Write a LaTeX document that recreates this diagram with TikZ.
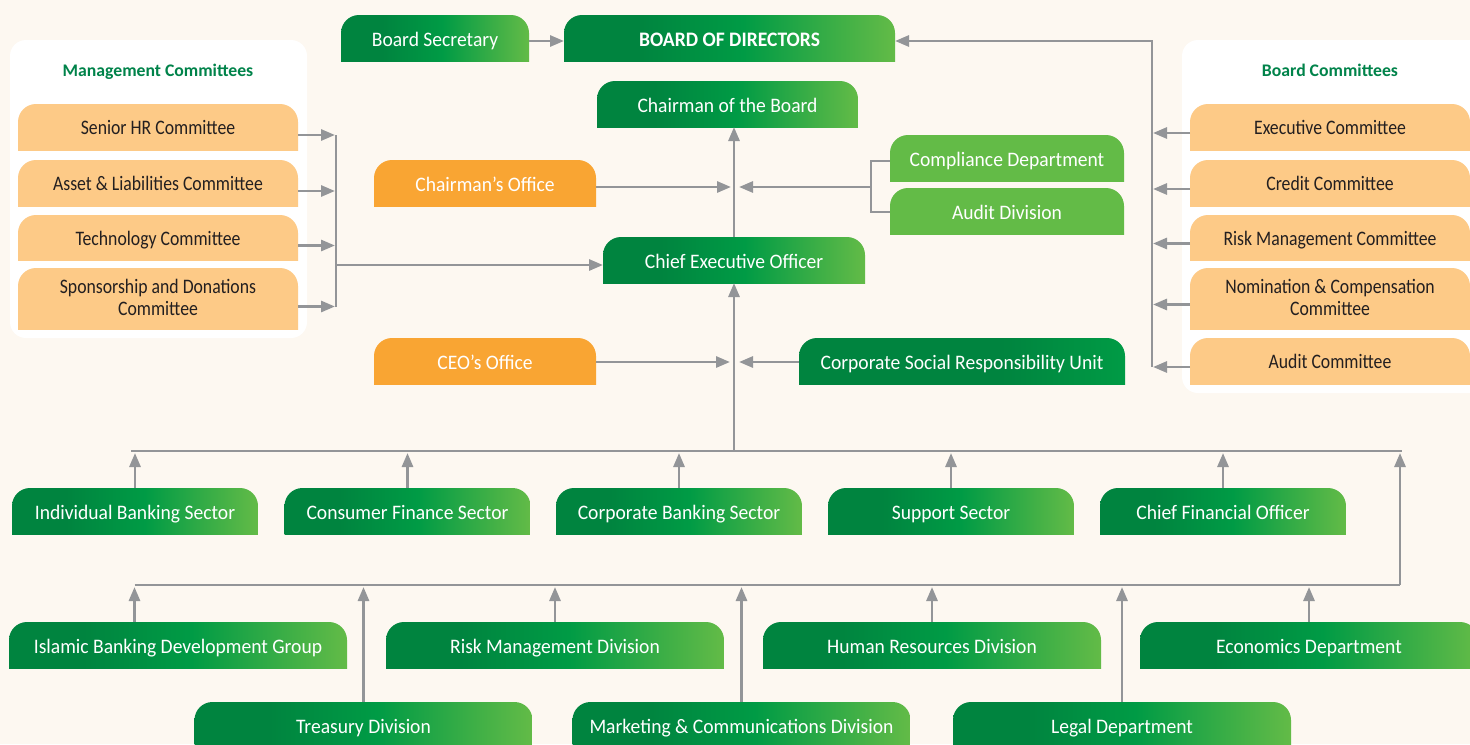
\documentclass[tikz,border=0pt]{standalone}
\usepackage{fontspec}
\setmainfont{Carlito}
\newfontfamily\boxfont{Carlito}[FakeStretch=0.95]
\newfontfamily\cmtfont{Carlito}[FakeStretch=0.86]
\usetikzlibrary{arrows.meta}

\definecolor{paper}{HTML}{FDF8F1}
\definecolor{gdark}{HTML}{00843F}
\definecolor{gmid}{HTML}{009B45}
\definecolor{glight}{HTML}{63BB47}
\definecolor{orangebox}{HTML}{F9A533}
\definecolor{peach}{HTML}{FDCA87}
\definecolor{titlegreen}{HTML}{00834A}
\definecolor{wire}{HTML}{939598}
\definecolor{inkdark}{HTML}{231F20}

% left-to-right fades used for the green tabs
\pgfdeclarehorizontalshading{greenfade}{100bp}{color(0bp)=(gdark); color(25bp)=(gdark); color(36bp)=(gdark); color(52bp)=(gmid); color(75bp)=(glight); color(100bp)=(glight)}
\pgfdeclarehorizontalshading{greendeep}{100bp}{color(0bp)=(gdark); color(25bp)=(gdark); color(56bp)=(gdark); color(75bp)=(gmid); color(100bp)=(gmid)}

\tikzset{
  % tab shape: rounded top corners, square bottom (bottom corners fall outside the clip)
  tab/.style={path picture={\path[#1, rounded corners=9pt]
      ([yshift=-14pt]path picture bounding box.south west) rectangle (path picture bounding box.north east);}},
  wh/.style 2 args={minimum width=#1*0.5pt, minimum height=#2*0.5pt},
  unitbox/.style={inner sep=0pt, outer sep=0pt, align=center},
  whitetext/.style={unitbox, text=white, font=\boxfont\fontsize{10.3}{12}\selectfont, text height=9.5pt, text depth=1pt},
  greenbox/.style={whitetext, tab={shade, shading=greenfade}},
  deepbox/.style={whitetext, tab={shade, shading=greendeep}},
  flatgreen/.style={whitetext, tab={fill=glight}},
  orangetab/.style={whitetext, tab={fill=orangebox}},
  cmtbox/.style={unitbox, text=inkdark, tab={fill=peach}, font=\cmtfont\fontsize{10.3}{11.25}\selectfont, text height=8.75pt, text depth=1pt},
  twoline/.style={text height=18pt},
  paneltitle/.style={anchor=base, text=titlegreen, font=\bfseries\fontsize{8.85}{11}\selectfont},
  wire/.style={draw=wire, line width=1.4pt},
  arr/.style={wire, -{Triangle[length=7pt,width=5.5pt]}},
}

\begin{document}
\begin{tikzpicture}[x=0.5pt, y=-0.5pt]
\useasboundingbox (0,0) rectangle (1470,744);
\fill[paper] (0,0) rectangle (1470,744);

% committee panels
\fill[white, rounded corners=8pt] (10,40) rectangle (307,338);
\fill[white, rounded corners=8pt] (1182,40) rectangle (1500,393);
\node[paneltitle] (mtitle) at (158,76) {Management Committees};
\node[paneltitle] (btitle) at (1330,76) {Board Committees};

% board level
\node[greenbox, wh={188}{46}] (bs) at (435,38) {Board Secretary};
\node[greenbox, wh={331}{46}, font=\boxfont\bfseries\fontsize{10.3}{12}\selectfont] (bod) at (729.5,38) {BOARD OF DIRECTORS};
\node[greenbox, wh={261}{46}] (chair) at (727.5,104) {Chairman of the Board};
\node[orangetab, wh={222}{46}] (cho) at (485,183) {Chairman’s Office};
\node[flatgreen, wh={234}{46}] (comp) at (1007,158) {Compliance Department};
\node[flatgreen, wh={234}{46}] (aud) at (1007,211) {Audit Division};
\node[greenbox, wh={262}{46}] (ceo) at (734,260) {Chief Executive Officer};
\node[orangetab, wh={222}{46}] (ceoo) at (485,361) {CEO’s Office};
\node[deepbox, wh={326}{46}] (csr) at (962,361) {Corporate Social Responsibility Unit};

% management committees
\node[cmtbox, wh={280}{46}] (hr) at (158,127) {Senior HR Committee};
\node[cmtbox, wh={280}{46}] (alc) at (158,183) {Asset \& Liabilities Committee};
\node[cmtbox, wh={280}{45}] (tech) at (158,237.5) {Technology Committee};
\node[cmtbox, twoline, wh={280}{61}] (spon) at (158,298.5) {Sponsorship and Donations\\Committee};

% board committees
\node[cmtbox, wh={280}{46}] (exec) at (1330,127) {Executive Committee};
\node[cmtbox, wh={280}{46}] (cred) at (1330,183) {Credit Committee};
\node[cmtbox, wh={280}{45}] (risk) at (1330,237.5) {Risk Management Committee};
\node[cmtbox, twoline, wh={280}{61}] (nom) at (1330,298.5) {Nomination \& Compensation\\Committee};
\node[cmtbox, wh={280}{46}] (audc) at (1330,361) {Audit Committee};

% sectors
\node[greenbox, wh={246}{46}] (ibs) at (135,511) {Individual Banking Sector};
\node[greenbox, wh={246}{46}] (cfs) at (407.5,511) {Consumer Finance Sector};
\node[greenbox, wh={246}{46}] (cbs) at (679,511) {Corporate Banking Sector};
\node[greenbox, wh={246}{46}] (sup) at (951,511) {Support Sector};
\node[greenbox, wh={246}{46}] (cfo) at (1223,511) {Chief Financial Officer};

% divisions
\node[greenbox, wh={338}{46}] (ibd) at (178,645) {Islamic Banking Development Group};
\node[greenbox, wh={338}{46}] (rmd) at (555,645) {Risk Management Division};
\node[greenbox, wh={338}{46}] (hrd) at (932,645) {Human Resources Division};
\node[greenbox, wh={338}{46}] (eco) at (1309,645) {Economics Department};
\node[greenbox, wh={338}{46}] (tre) at (363.5,725) {Treasury Division};
\node[greenbox, wh={338}{46}] (mkt) at (741.5,725) {Marketing \& Communications Division};
\node[greenbox, wh={338}{46}] (leg) at (1122,725) {Legal Department};

% junction points of the connector network
\coordinate (mbar) at (336,265);
\coordinate (bbar) at (1152,41);
\coordinate (cx) at (735,187);
\coordinate (cbr) at (871,187);
\coordinate (ox) at (735,362);
\coordinate (bus1l) at (131,451);
\coordinate (bus1r) at (1402,451);
\coordinate (bus2l) at (134.5,585);
\coordinate (bus2r) at (1400,585);

% board secretary
\draw[arr] ([yshift=-1.5pt]bs.east) -- ([yshift=-1.5pt]bs.east -| bod.west);

% management committees feed the CEO
\foreach \c in {hr,alc,tech,spon}
  \draw[arr, shorten >=0.5pt] ([yshift=-4pt]\c.east) -- ([yshift=-4pt]\c.east -| mbar);
\draw[wire] ([yshift=-4pt]hr.east -| mbar) -- ([yshift=-4pt]spon.east -| mbar);
\draw[arr] (mbar) -- (ceo.west |- mbar);

% board committees feed the board
\foreach \c in {exec,cred,risk,nom,audc}
  \draw[arr, shorten >=0.5pt] ([yshift=-3pt]\c.west) -- ([yshift=-3pt]\c.west -| bbar);
\draw[arr] ([yshift=-3pt]audc.west -| bbar) -- (bbar) -- (bod.east |- bbar);

% CEO to chairman, with offices and control units
\draw[arr] (ceo.north) -- (ceo.north |- chair.south);
\draw[arr] ([yshift=-2pt]cho.east) -- ([xshift=-2pt]cx);
\draw[wire] ([yshift=-1.5pt]comp.west) -| (cbr) |- ([yshift=-0.5pt]aud.west);
\draw[arr] (cbr) -- ([xshift=2pt]cx);
\draw[arr] ([yshift=-0.5pt]ceoo.east) -- ([xshift=-2.5pt]ox);
\draw[arr] (csr.west |- ox) -- ([xshift=2pt]ox);

% sector bus
\draw[arr] (ceo.south |- bus1l) -- (ceo.south);
\draw[wire] (bus1l) -- (bus1r);
\foreach \c in {ibs,cfs,cbs,sup,cfo}
  \draw[arr, shorten >=1pt] (\c.north) -- (\c.north |- bus1l);

% division bus
\draw[wire] (bus2l) -- (bus2r);
\draw[arr, shorten >=1pt] (bus2r) -- (bus2r |- bus1l);
\draw[arr, shorten >=1pt] (ibd.north -| bus2l) -- (bus2l);
\foreach \c in {rmd,hrd,eco,tre,mkt,leg}
  \draw[arr, shorten >=1pt] (\c.north) -- (\c.north |- bus2l);
\end{tikzpicture}
\end{document}
